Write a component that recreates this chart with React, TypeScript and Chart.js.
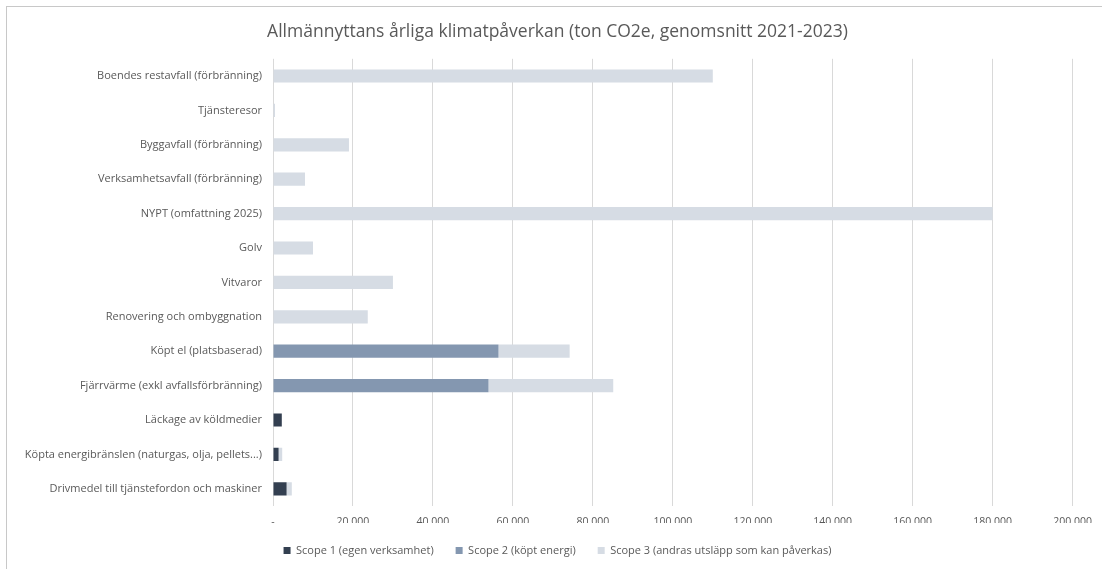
import React, { useEffect, useRef } from "react";
import { Chart, registerables } from "chart.js";

Chart.register(...registerables);

const categories = [
  "Boendes restavfall (förbränning)",
  "Tjänsteresor",
  "Byggavfall (förbränning)",
  "Verksamhetsavfall (förbränning)",
  "NYPT (omfattning 2025)",
  "Golv",
  "Vitvaror",
  "Renovering och ombyggnation",
  "Köpt el (platsbaserad)",
  "Fjärrvärme (exkl avfallsförbränning)",
  "Läckage av köldmedier",
  "Köpta energibränslen (naturgas, olja, pellets...)",
  "Drivmedel till tjänstefordon och maskiner",
];

const scope1 = [0, 0, 0, 0, 0, 0, 0, 0, 0, 0, 2200, 1400, 3400];
const scope2 = [0, 0, 0, 0, 0, 0, 0, 0, 56400, 53900, 0, 0, 0];
const scope3 = [110000, 500, 19000, 8000, 180000, 10000, 30000, 23700, 17800, 31200, 0, 900, 1300];

const seriesNames = [
  "Scope 1 (egen verksamhet)",
  "Scope 2 (köpt energi)",
  "Scope 3 (andras utsläpp som kan påverkas)",
];

const xMin = 0;
const xMax = 200000;
const xStep = 20000;

const FONT = "'Open Sans', sans-serif";

export default function App() {
  const ref = useRef<HTMLCanvasElement | null>(null);

  useEffect(() => {
    if (!ref.current) return;
    const chart = new Chart(ref.current, {
      type: "bar",
      data: {
        labels: categories,
        datasets: [
          { label: seriesNames[0], data: scope1, backgroundColor: "#333F50" },
          { label: seriesNames[1], data: scope2, backgroundColor: "#8497B0" },
          { label: seriesNames[2], data: scope3, backgroundColor: "#D6DCE4" },
        ],
      },
      options: {
        indexAxis: "y",
        animation: false,
        responsive: false,
        maintainAspectRatio: false,
        layout: { padding: { top: 0, right: 5, bottom: 3, left: 18 } },
        datasets: {
          bar: { barPercentage: 0.385, categoryPercentage: 1, borderWidth: 0 },
        },
        plugins: {
          title: {
            display: true,
            text: "Allmännyttans årliga klimatpåverkan (ton CO2e, genomsnitt 2021-2023)",
            color: "#595959",
            font: { family: FONT, size: 17.5, weight: "normal" },
            padding: { top: 21.5, bottom: 16.3 },
          },
          legend: {
            position: "bottom",
            labels: {
              boxWidth: 7,
              boxHeight: 7,
              color: "#595959",
              font: { family: FONT, size: 11 },
              padding: 22,
            },
          },
          tooltip: { enabled: false },
        },
        scales: {
          x: {
            stacked: true,
            min: xMin,
            max: xMax,
            border: { display: false },
            grid: { color: "#D9D9D9", drawTicks: false, lineWidth: 1 },
            ticks: {
              stepSize: xStep,
              padding: 10,
              color: "#595959",
              font: { family: FONT, size: 10.5 },
              callback: (v: any) =>
                Number(v) === 0 ? "-" : String(v).replace(/\B(?=(\d{3})+(?!\d))/g, " "),
            },
            afterFit: (s: any) => {
              s.height = 17;
            },
          },
          y: {
            stacked: true,
            border: { display: false },
            grid: { display: false, drawTicks: false },
            ticks: {
              padding: 11,
              color: "#595959",
              font: { family: FONT, size: 11 },
              autoSkip: false,
            },
            afterFit: (s: any) => {
              s.width = 255;
            },
          },
        },
      },
    });
    return () => chart.destroy();
  }, []);

  return (
    <div style={{ position: "fixed", left: 0, top: 0, width: 1102, height: 569, overflow: "hidden", background: "#fff" }}>
      <canvas ref={ref} width={1102} height={569} style={{ position: "absolute", left: 0, top: 0 }} />
      <div
        style={{
          position: "absolute",
          left: 6,
          top: 6,
          width: 1200,
          height: 700,
          borderTop: "1.5px solid #C8C8C8",
          borderLeft: "1.5px solid #C8C8C8",
          pointerEvents: "none",
        }}
      />
    </div>
  );
}
